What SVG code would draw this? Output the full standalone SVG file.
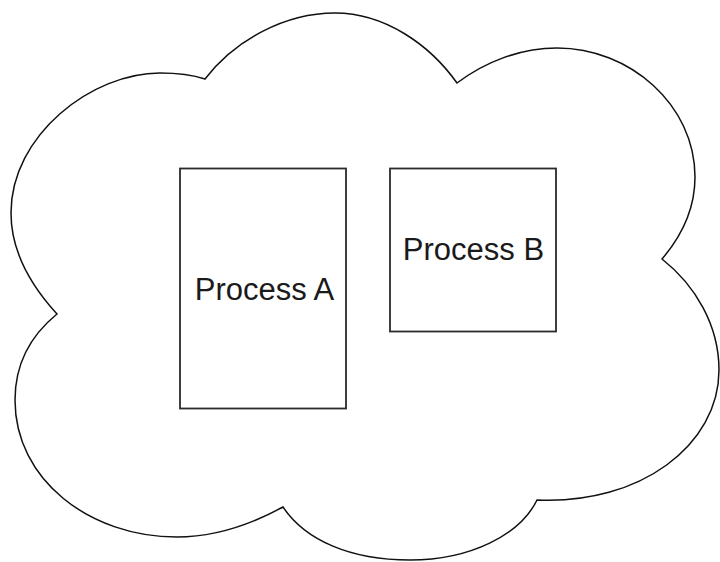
<svg xmlns="http://www.w3.org/2000/svg" width="720" height="562" viewBox="0 0 720 562">
  <style>
    .cloud { fill: #ffffff; stroke: #111111; stroke-width: 1.5; stroke-linejoin: miter; }
    .box { fill: #ffffff; stroke: #2a2a2a; stroke-width: 1.8; }
    .label { font-family: "Liberation Sans", Arial, sans-serif; font-size: 31px; fill: #1a1a1a; text-anchor: middle; }
  </style>
  <rect width="720" height="562" fill="#ffffff"/>
  <g id="cloud">
    <path class="cloud" d="M 57,314
      C 35,290 11,255 11,213
      C 11,135 92,73 160,73
      C 178,73 193,75 205,79
      C 235,40 285,13 335,13
      C 385,13 430,45 457,83
      C 485,62 520,48 557,48
      C 630,48 695,105 695,177
      C 695,210 680,238 662,259
      C 695,285 719,325 719,370
      C 719,445 640,505 537,500
      C 520,535 470,560 410,560
      C 350,560 305,540 283,507
      C 250,525 215,537 177,537
      C 90,537 15,480 15,400
      C 15,365 30,336 57,314 Z"/>
  </g>
  <g id="process-a">
    <rect class="box" x="180" y="168.5" width="166" height="240"/>
    <text class="label" x="264.5" y="300">Process A</text>
  </g>
  <g id="process-b">
    <rect class="box" x="390" y="168.5" width="166" height="163"/>
    <text class="label" x="473.5" y="260">Process B</text>
  </g>
  <g id="connectors"></g>
</svg>
